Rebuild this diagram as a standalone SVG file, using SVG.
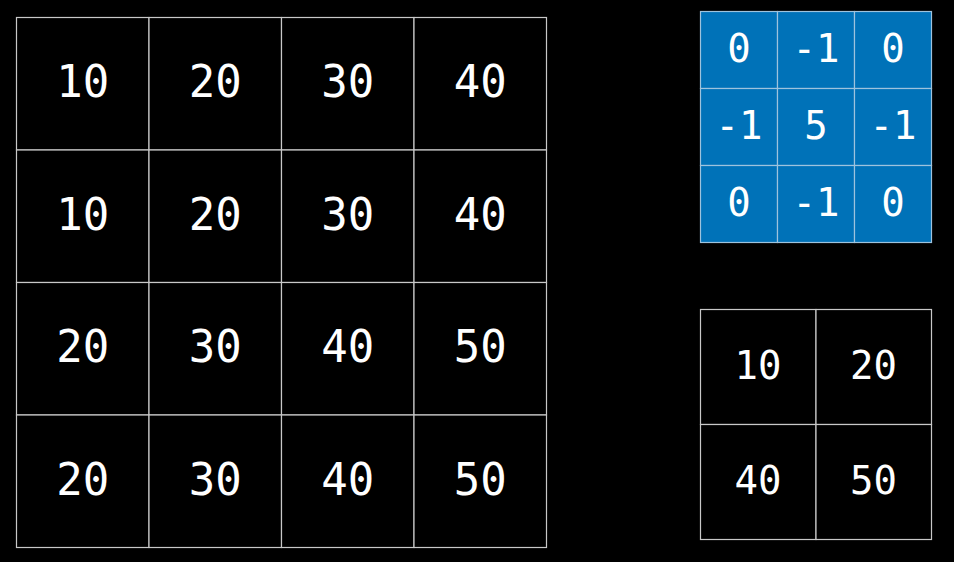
<svg xmlns="http://www.w3.org/2000/svg" width="954" height="562" viewBox="0 0 954 562">
<style>
.bg{fill:#000}
.cell{fill:#000;stroke:#c8c8c8;stroke-width:1.2}
.kcell{fill:#0072b8;stroke:#9ec3dd;stroke-width:1.2}
text{font-family:"DejaVu Sans Mono","Liberation Mono",monospace;fill:#fff;text-anchor:middle}
.big{font-size:44px}
.sm{font-size:39px}
</style>
<rect class="bg" x="0" y="0" width="954" height="562"/>
<g id="input">
<rect class="cell" x="16.5" y="17.5" width="132.5" height="132.5"/>
<rect class="cell" x="149" y="17.5" width="132.5" height="132.5"/>
<rect class="cell" x="281.5" y="17.5" width="132.5" height="132.5"/>
<rect class="cell" x="414" y="17.5" width="132.5" height="132.5"/>
<rect class="cell" x="16.5" y="150" width="132.5" height="132.5"/>
<rect class="cell" x="149" y="150" width="132.5" height="132.5"/>
<rect class="cell" x="281.5" y="150" width="132.5" height="132.5"/>
<rect class="cell" x="414" y="150" width="132.5" height="132.5"/>
<rect class="cell" x="16.5" y="282.5" width="132.5" height="132.5"/>
<rect class="cell" x="149" y="282.5" width="132.5" height="132.5"/>
<rect class="cell" x="281.5" y="282.5" width="132.5" height="132.5"/>
<rect class="cell" x="414" y="282.5" width="132.5" height="132.5"/>
<rect class="cell" x="16.5" y="415" width="132.5" height="132.5"/>
<rect class="cell" x="149" y="415" width="132.5" height="132.5"/>
<rect class="cell" x="281.5" y="415" width="132.5" height="132.5"/>
<rect class="cell" x="414" y="415" width="132.5" height="132.5"/>
<text class="big" x="82.75" y="97">10</text>
<text class="big" x="215.25" y="97">20</text>
<text class="big" x="347.75" y="97">30</text>
<text class="big" x="480.25" y="97">40</text>
<text class="big" x="82.75" y="229.5">10</text>
<text class="big" x="215.25" y="229.5">20</text>
<text class="big" x="347.75" y="229.5">30</text>
<text class="big" x="480.25" y="229.5">40</text>
<text class="big" x="82.75" y="362">20</text>
<text class="big" x="215.25" y="362">30</text>
<text class="big" x="347.75" y="362">40</text>
<text class="big" x="480.25" y="362">50</text>
<text class="big" x="82.75" y="494.5">20</text>
<text class="big" x="215.25" y="494.5">30</text>
<text class="big" x="347.75" y="494.5">40</text>
<text class="big" x="480.25" y="494.5">50</text>
</g>
<g id="kernel">
<rect class="kcell" x="700.5" y="11.5" width="77" height="77"/>
<rect class="kcell" x="777.5" y="11.5" width="77" height="77"/>
<rect class="kcell" x="854.5" y="11.5" width="77" height="77"/>
<rect class="kcell" x="700.5" y="88.5" width="77" height="77"/>
<rect class="kcell" x="777.5" y="88.5" width="77" height="77"/>
<rect class="kcell" x="854.5" y="88.5" width="77" height="77"/>
<rect class="kcell" x="700.5" y="165.5" width="77" height="77"/>
<rect class="kcell" x="777.5" y="165.5" width="77" height="77"/>
<rect class="kcell" x="854.5" y="165.5" width="77" height="77"/>
<text class="sm" x="739" y="62">0</text>
<text class="sm" x="816" y="62">-1</text>
<text class="sm" x="893" y="62">0</text>
<text class="sm" x="739" y="139">-1</text>
<text class="sm" x="816" y="139">5</text>
<text class="sm" x="893" y="139">-1</text>
<text class="sm" x="739" y="216">0</text>
<text class="sm" x="816" y="216">-1</text>
<text class="sm" x="893" y="216">0</text>
</g>
<g id="output">
<rect class="cell" x="700.5" y="309.5" width="115.5" height="115"/>
<rect class="cell" x="816" y="309.5" width="115.5" height="115"/>
<rect class="cell" x="700.5" y="424.5" width="115.5" height="115"/>
<rect class="cell" x="816" y="424.5" width="115.5" height="115"/>
<text class="sm" x="758" y="379">10</text>
<text class="sm" x="873.5" y="379">20</text>
<text class="sm" x="758" y="494">40</text>
<text class="sm" x="873.5" y="494">50</text>
</g>
<g id="connectors"/>
</svg>
